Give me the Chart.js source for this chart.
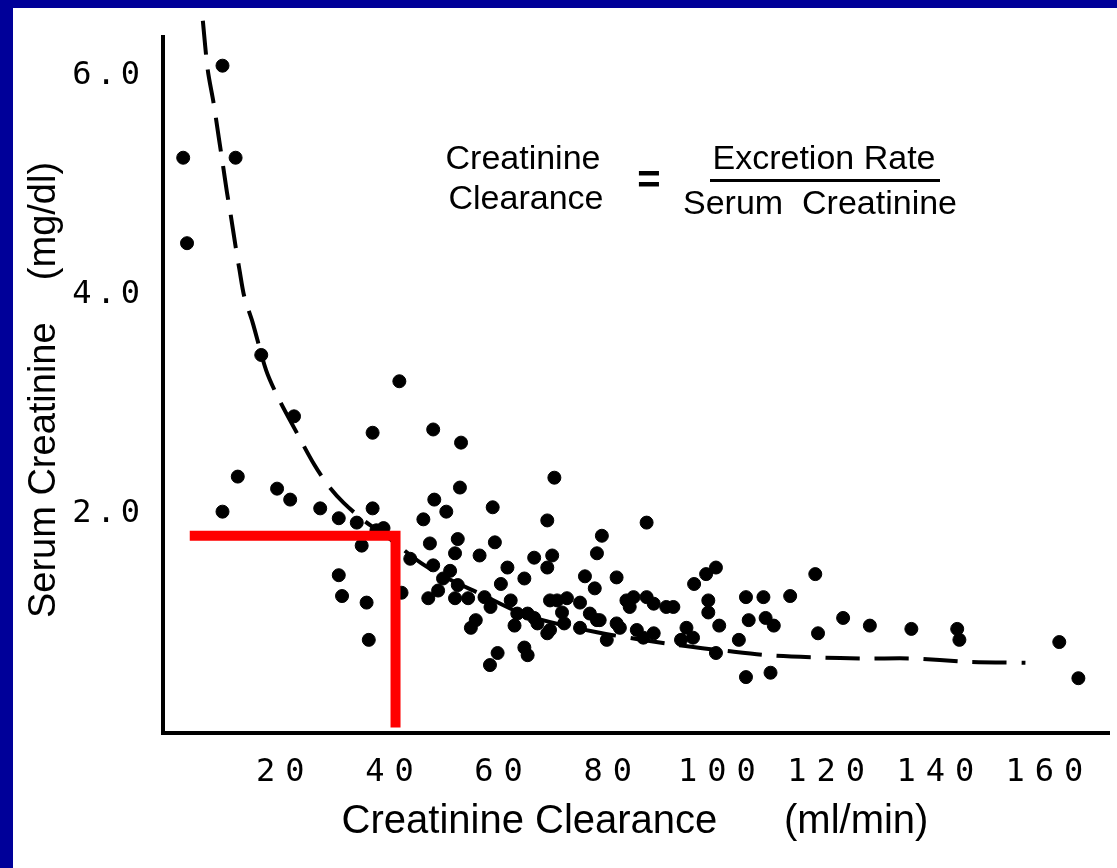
<!DOCTYPE html>
<html>
<head>
<meta charset="utf-8">
<script src="https://cdn.jsdelivr.net/npm/chart.js@4.4.1/dist/chart.umd.min.js"></script>
<style>
html, body { margin: 0; padding: 0; width: 1117px; height: 868px; overflow: hidden; background: #000099; }
#panel { position: absolute; left: 13px; top: 8px; width: 1104px; height: 860px; background: #fff; }
</style>
</head>
<body>
<div id="panel"><canvas id="clearanceChart"></canvas></div>
<script>
// patients: creatinine clearance (ml/min) vs serum creatinine (mg/dl)
const ptsX = [1.3, 10.9, 2.0, 8.5, 15.6, 21.6, 11.3, 8.5, 18.5, 20.9, 26.4, 29.8, 36.0, 40.9, 47.1, 52.2, 36.0, 52.0, 47.3, 49.5,
  45.3, 58.0, 33.1, 36.7, 34.0, 38.0, 29.8, 30.4, 34.9, 35.3, 41.3, 46.2, 51.1, 46.5, 51.6, 58.4, 78.0, 51.1, 55.6, 65.6,
  68.9, 77.1, 42.9, 47.1, 48.9, 51.6, 48.0, 60.7, 68.0, 74.9, 80.7, 59.5, 63.8, 56.5, 61.3, 64.4, 68.5, 71.6, 74.0, 77.1,
  80.7, 66.2, 68.5, 54.0, 54.9, 63.8, 64.4, 58.9, 57.5, 69.3, 68.0, 86.2, 98.9, 97.1, 94.9, 97.5, 97.5, 89.8, 86.2, 83.8,
  104.4, 107.6, 112.5, 117.1, 122.2, 127.1, 117.6, 104.9, 108.0, 109.5, 99.5, 103.1, 93.5, 94.7, 98.9, 104.4, 108.9, 68.0, 85.6, 87.5,
  81.3, 74.0, 77.6, 71.1, 62.5, 65.6, 57.6, 69.8, 75.8, 83.1, 87.5, 91.1, 134.7, 143.1, 143.5, 161.8, 165.3, 76.7,
  82.5, 84.4, 78.9, 62.0, 70.7, 53.5, 50.2, 92.5];
const ptsY = [5.25, 5.25, 4.47, 6.09, 3.45, 2.89, 2.34, 2.02, 2.23, 2.13, 2.05, 1.96, 2.74, 3.21, 2.77, 2.65, 2.05, 2.24, 2.13, 2.02,
  1.95, 2.06, 1.92, 1.85, 1.71, 1.87, 1.44, 1.25, 1.19, 0.85, 1.28, 1.23, 1.23, 1.73, 1.77, 1.74, 1.80, 1.64, 1.62, 1.60,
  1.62, 1.64, 1.59, 1.53, 1.41, 1.35, 1.30, 1.51, 1.51, 1.43, 1.42, 1.36, 1.41, 1.24, 1.21, 1.09, 1.21, 1.23, 1.19, 1.03,
  1.00, 1.00, 0.94, 0.96, 1.03, 0.78, 0.71, 0.73, 0.62, 2.33, 1.94, 1.92, 1.51, 1.45, 1.36, 1.21, 1.10, 1.15, 1.24, 1.24,
  1.24, 1.24, 1.25, 1.45, 1.05, 0.98, 0.91, 1.03, 1.05, 0.98, 0.98, 0.85, 0.96, 0.87, 0.73, 0.51, 0.55, 0.91, 0.87, 0.91,
  0.96, 0.96, 1.03, 1.00, 1.09, 1.05, 1.15, 1.21, 1.09, 1.15, 1.18, 1.15, 0.95, 0.95, 0.85, 0.83, 0.50, 1.32,
  1.21, 0.94, 0.85, 0.98, 1.10, 1.23, 1.48, 0.85];

// dashed trend curve
const curveX = [4.9, 5.8, 6.9, 7.8, 8.5, 9.3, 10.0, 10.9, 11.6, 12.5, 14.0, 16.5, 18.9, 22.0, 25.3, 28.0, 30.7, 34.4, 38.9, 44.9,
  49.8, 55.3, 64.4, 77.1, 92.2, 100.7, 108.4, 117.1, 126.2, 134.9, 144.9, 155.6];
const curveY = [6.5, 6.05, 5.74, 5.44, 5.21, 4.94, 4.73, 4.44, 4.23, 3.98, 3.75, 3.31, 3.04, 2.75, 2.45, 2.25, 2.10, 1.94, 1.78, 1.55,
  1.41, 1.28, 1.07, 0.92, 0.80, 0.75, 0.71, 0.69, 0.68, 0.68, 0.65, 0.64];

// red marker at 40 ml/min
const guideX = [2.5, 40.2, 40.2];
const guideY = [1.8, 1.8, 0.05];

const xTicks = [20, 40, 60, 80, 100, 120, 140, 160];
const yTicks = [2, 4, 6];

const toXY = (xs, ys) => xs.map((x, i) => ({ x: x, y: ys[i] }));

// wide typewriter-like spacing for the tick numbers of each axis
const tickSpacing = { x: '10px', y: '5px' };
const spacedTicks = {
  id: 'spacedTicks',
  beforeDraw(chart) {
    Object.keys(tickSpacing).forEach(id => {
      const s = chart.scales[id];
      if (s._spaced) return;
      const base = s.drawLabels;
      s.drawLabels = function (area) {
        const c = this.ctx;
        c.save();
        c.letterSpacing = tickSpacing[id];
        base.call(this, area);
        c.restore();
      };
      s._spaced = true;
    });
  }
};

const labels = {
  id: 'labels',
  afterDraw(chart) {
    const ctx = chart.ctx;
    ctx.save();
    ctx.fillStyle = '#000';
    ctx.textAlign = 'center';
    ctx.textBaseline = 'middle';

    // axis titles
    ctx.font = '40px "Liberation Sans", Arial, sans-serif';
    ctx.fillText('Creatinine Clearance      (ml/min)', 622, 814);
    ctx.save();
    ctx.translate(32, 382);
    ctx.rotate(-Math.PI / 2);
    ctx.font = '38px "Liberation Sans", Arial, sans-serif';
    ctx.fillText('Serum Creatinine    (mg/dl)', 0, 0);
    ctx.restore();

    // formula
    ctx.font = '34px "Liberation Sans", Arial, sans-serif';
    ctx.fillText('Creatinine', 510, 152);
    ctx.fillText('Clearance', 513, 192);
    ctx.fillText('Excretion Rate', 811, 152);
    ctx.fillText('Serum  Creatinine', 807, 197);
    ctx.font = 'bold 40px "Liberation Sans", Arial, sans-serif';
    ctx.fillText('=', 636, 174);
    ctx.fillRect(697, 171, 230, 3);
    ctx.restore();
  }
};

const ctx = document.getElementById('clearanceChart').getContext('2d');

const clearanceChart = new Chart(ctx, {
  type: 'scatter',
  data: {
    datasets: [
      {
        data: toXY(guideX, guideY),
        showLine: true,
        borderColor: '#ff0000',
        borderWidth: 10,
        borderJoinStyle: 'miter',
        borderCapStyle: 'butt',
        pointRadius: 0,
        fill: false
      },
      {
        data: toXY(ptsX, ptsY),
        backgroundColor: '#000',
        borderColor: '#000',
        pointRadius: 6.5,
        pointStyle: 'circle'
      },
      {
        data: toXY(curveX, curveY),
        showLine: true,
        borderColor: '#000',
        borderWidth: 4,
        borderDash: [34, 15],
        tension: 0.3,
        pointRadius: 0,
        fill: false,
        clip: false
      }
    ]
  },
  options: {
    responsive: true,
    maintainAspectRatio: false,
    animation: false,
    layout: { padding: { top: 20, right: 0, bottom: 0, left: 0 } },
    plugins: {
      legend: { display: false },
      tooltip: { enabled: false }
    },
    scales: {
      x: {
        type: 'linear',
        min: -2.4,
        max: 171,
        grid: { display: false },
        border: { color: '#000', width: 4 },
        ticks: {
          color: '#000',
          padding: 12,
          font: { family: '"DejaVu Sans Mono", monospace', size: 32 },
          callback: v => String(v)
        },
        afterBuildTicks: s => { s.ticks = xTicks.map(v => ({ value: v })); },
        afterFit: s => { s.height = 135; }
      },
      y: {
        type: 'linear',
        min: 0,
        max: 6.35,
        grid: { display: false },
        border: { color: '#000', width: 4 },
        ticks: {
          color: '#000',
          padding: 10,
          font: { family: '"DejaVu Sans Mono", monospace', size: 32 },
          callback: v => v.toFixed(1)
        },
        afterBuildTicks: s => { s.ticks = yTicks.map(v => ({ value: v })); },
        afterFit: s => { s.width = 150; }
      }
    }
  },
  plugins: [spacedTicks, labels]
});
</script>
</body>
</html>
